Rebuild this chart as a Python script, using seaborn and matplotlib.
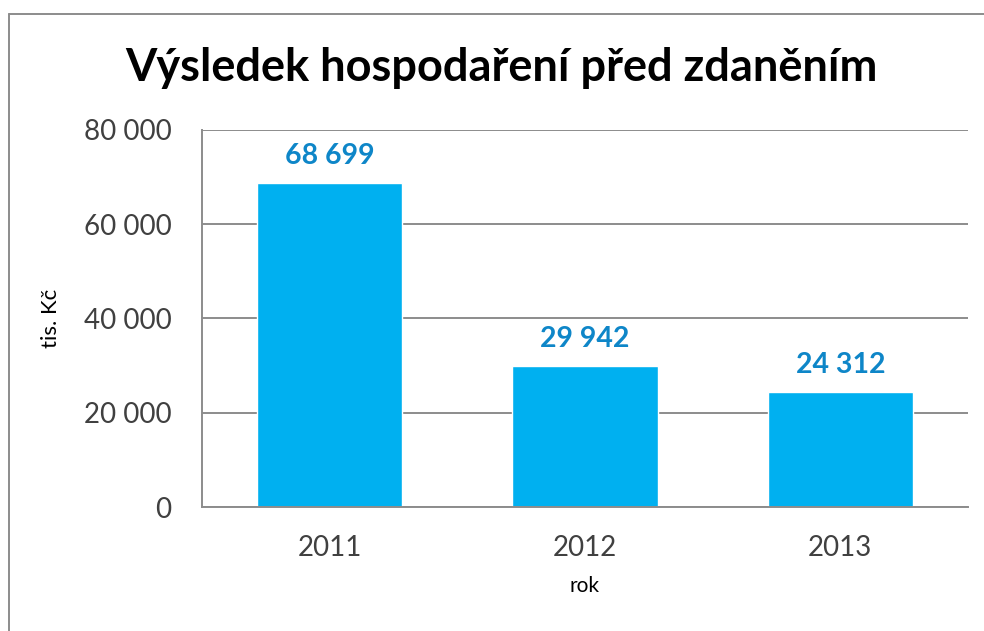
import matplotlib
matplotlib.use('Agg')

import pandas as pd
import seaborn as sns
import matplotlib.pyplot as plt
from matplotlib.lines import Line2D
from matplotlib.ticker import FuncFormatter

# === Data ===
years = ['2011', '2012', '2013']
values = [68699, 29942, 24312]
value_labels = ['68 699', '29 942', '24 312']
y_ticks = [0, 20000, 40000, 60000, 80000]

df = pd.DataFrame({'rok': years, 'hodnota': values})

sns.set_theme(style='white')
plt.rcParams['font.family'] = ['Lato', 'DejaVu Sans']

fig = plt.figure(figsize=(9.84, 6.31), dpi=100)
ax = fig.add_axes([0.2053, 0.1965, 0.7784, 0.5975])

sns.barplot(data=df, x='rok', y='hodnota', color='#00B0F0', width=0.57,
            saturation=1, ax=ax)

# === Axes styling ===
ax.set_ylim(0, 80000)
ax.set_yticks(y_ticks)
ax.yaxis.set_major_formatter(FuncFormatter(lambda v, p: f"{int(v):,}".replace(',', ' ')))
ax.grid(axis='y', color='#8c8c8c', linewidth=1.4)
ax.set_axisbelow(True)
for s in ['top', 'right']:
    ax.spines[s].set_visible(False)
for s in ['left', 'bottom']:
    ax.spines[s].set_color('#8c8c8c')
    ax.spines[s].set_linewidth(1.4)
ax.tick_params(axis='y', labelsize=20, colors='#404040', pad=22, length=0)
ax.tick_params(axis='x', labelsize=20, colors='#404040', pad=20, length=0)
ax.set_xlabel('rok', fontsize=15, color='black', labelpad=11)
ax.set_ylabel('tis. Kč', fontsize=16, color='black', labelpad=16)

# === Data labels ===
for i, (v, lab) in enumerate(zip(values, value_labels)):
    ax.text(i, v + 3000, lab, ha='center', va='bottom', fontsize=20.5,
            fontweight='bold', color='#0E86C8')

fig.suptitle('Výsledek hospodaření před zdaněním', x=0.510, y=0.925,
             fontsize=32.5, fontweight='bold', color='black')

# === Outer chart border (top and left edges only) ===
top_y = 1 - 14 / 631
left_x = 9 / 984
fig.add_artist(Line2D([left_x, 1.05], [top_y, top_y], transform=fig.transFigure,
                      color='#8c8c8c', linewidth=1.4, clip_on=False))
fig.add_artist(Line2D([left_x, left_x], [-0.05, top_y], transform=fig.transFigure,
                      color='#8c8c8c', linewidth=1.4, clip_on=False))

fig.savefig('out.png', dpi=100)
plt.close()
